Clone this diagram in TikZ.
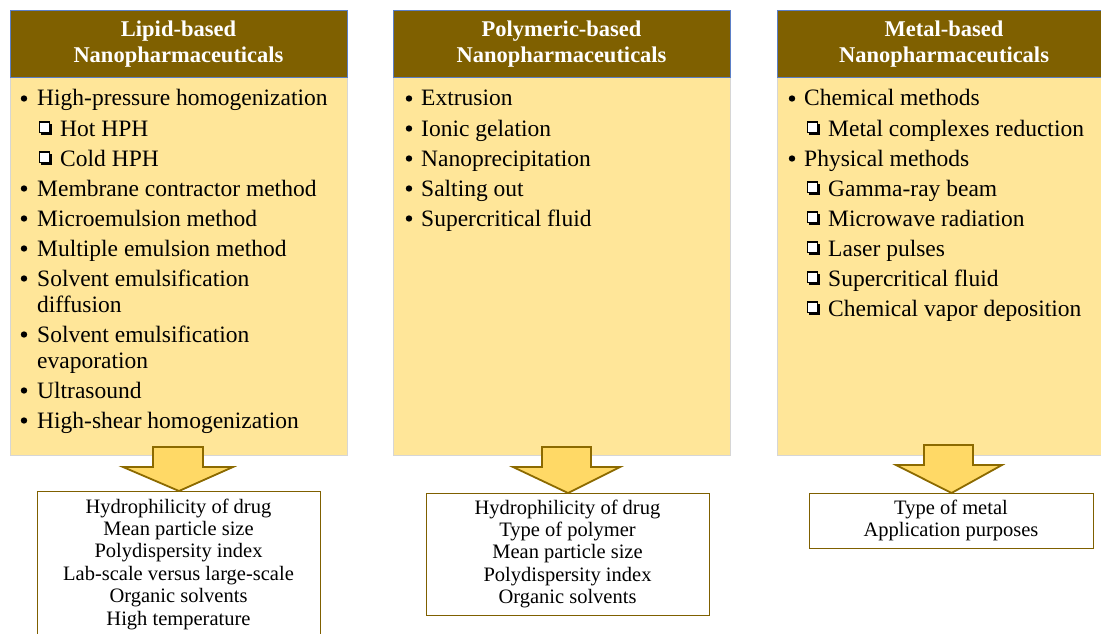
\documentclass[tikz,border=0pt]{standalone}
\usepackage{fontspec}
\setmainfont{Liberation Serif}
\definecolor{hdrbrown}{HTML}{7F6000}
\definecolor{hdrblue}{HTML}{5B7FC7}
\definecolor{bodyyellow}{HTML}{FFE699}
\definecolor{bodygray}{HTML}{D6D6D6}
\definecolor{arrowyellow}{HTML}{FFD966}
\definecolor{arrowbrown}{HTML}{8C6A00}
\tikzset{
  hdr/.style={draw=hdrblue, line width=1pt, fill=hdrbrown, anchor=north west, inner sep=0},
  bodybox/.style={draw=bodygray, line width=1pt, fill=bodyyellow, anchor=north west, inner sep=0},
  hdrtext/.style={anchor=base, inner sep=0, text=white, font=\bfseries\fontsize{22.5}{26}\selectfont},
  item/.style={anchor=base west, inner sep=0, font=\fontsize{23.5}{26}\selectfont},
  bul/.style={circle, fill=black, inner sep=0, minimum size=6.4pt},
  resbox/.style={draw=hdrbrown, line width=1pt, fill=white, anchor=north west, inner sep=0},
  restext/.style={anchor=base, inner sep=0, font=\fontsize{20.5}{22.5}\selectfont},
  bigarrow/.style={draw=arrowbrown, line width=1.8pt, fill=arrowyellow, line join=miter},
  sqm/.pic={
    \fill[black] (2.4,-1.2) rectangle (13,-12);
    \filldraw[fill=white, draw=black, line width=1.1pt] (0.5,-3.6) rectangle (10.6,-14);
  }
}
\begin{document}
\begin{tikzpicture}[x=1pt, y=-1pt]
\useasboundingbox (0,0) rectangle (1101,634);
% ---------- bodies ----------
\node[bodybox, minimum width=337pt, minimum height=378pt] (b1) at (10,77) {};
\node[bodybox, minimum width=337pt, minimum height=378pt] (b2) at (393,77) {};
\node[bodybox, minimum width=340pt, minimum height=378pt] (b3) at (777,77) {};
% ---------- headers ----------
\node[hdr, minimum width=337pt, minimum height=67pt] (h1) at (10,10) {};
\node[hdr, minimum width=337pt, minimum height=67pt] (h2) at (393,10) {};
\node[hdr, minimum width=340pt, minimum height=67pt] (h3) at (777,10) {};
\node[hdrtext] (h1a) at (178.5,37) {Lipid-based};
\node[hdrtext] (h1b) at (178.5,63) {Nanopharmaceuticals};
\node[hdrtext] (h2a) at (561.5,37) {Polymeric-based};
\node[hdrtext] (h2b) at (561.5,63) {Nanopharmaceuticals};
\node[hdrtext] (h3a) at (944,37) {Metal-based};
\node[hdrtext] (h3b) at (944,63) {Nanopharmaceuticals};
% ---------- column 1 items ----------
\node[bul] (c1b1) at (24,98.5) {};
\node[item] (c1t1) at (37,106) {High-pressure homogenization};
\pic at (39,136) {sqm};
\node[item] (c1t2) at (60,136) {Hot HPH};
\pic at (39,166) {sqm};
\node[item] (c1t3) at (60,166) {Cold HPH};
\node[bul] (c1b4) at (24,188.5) {};
\node[item] (c1t4) at (37,196) {Membrane contractor method};
\node[bul] (c1b5) at (24,218.5) {};
\node[item] (c1t5) at (37,226) {Microemulsion method};
\node[bul] (c1b6) at (24,248.5) {};
\node[item] (c1t6) at (37,256) {Multiple emulsion method};
\node[bul] (c1b7) at (24,278.5) {};
\node[item] (c1t7) at (37,286) {Solvent emulsification};
\node[item] (c1t7b) at (37,312) {diffusion};
\node[bul] (c1b8) at (24,334.5) {};
\node[item] (c1t8) at (37,342) {Solvent emulsification};
\node[item] (c1t8b) at (37,368) {evaporation};
\node[bul] (c1b9) at (24,390.5) {};
\node[item] (c1t9) at (37,398) {Ultrasound};
\node[bul] (c1b10) at (24,420.5) {};
\node[item] (c1t10) at (37,428) {High-shear homogenization};
% ---------- column 2 items ----------
\foreach \t [count=\i] in {Extrusion, Ionic gelation, Nanoprecipitation, Salting out, Supercritical fluid}{
  \node[bul] (c2b\i) at (409,{98.5+30*(\i-1)}) {};
  \node[item] (c2t\i) at (421,{106+30*(\i-1)}) {\t};
}
% ---------- column 3 items ----------
\node[bul] (c3b1) at (792,98.5) {};
\node[item] (c3t1) at (804,106) {Chemical methods};
\pic at (807,136) {sqm};
\node[item] (c3t2) at (828,136) {Metal complexes reduction};
\node[bul] (c3b3) at (792,158.5) {};
\node[item] (c3t3) at (804,166) {Physical methods};
\foreach \t [count=\i] in {Gamma-ray beam, Microwave radiation, Laser pulses, Supercritical fluid, Chemical vapor deposition}{
  \pic at (807,{196+30*(\i-1)}) {sqm};
  \node[item] (c3s\i) at (828,{196+30*(\i-1)}) {\t};
}
% ---------- result boxes ----------
\node[resbox, minimum width=283pt, minimum height=160pt] (r1) at (37,491) {};
\node[resbox, minimum width=283pt, minimum height=122pt] (r2) at (426,493) {};
\node[resbox, minimum width=284pt, minimum height=55pt] (r3) at (809,493) {};
\foreach \t [count=\i] in {Hydrophilicity of drug, Mean particle size, Polydispersity index, Lab-scale versus large-scale, Organic solvents, High temperature}{
  \node[restext] (r1t\i) at (178.5,{513+22.4*(\i-1)}) {\t};
}
\foreach \t [count=\i] in {Hydrophilicity of drug, Type of polymer, Mean particle size, Polydispersity index, Organic solvents}{
  \node[restext] (r2t\i) at (567.5,{514+22.4*(\i-1)}) {\t};
}
\foreach \t [count=\i] in {Type of metal, Application purposes}{
  \node[restext] (r3t\i) at (951,{514+22.6*(\i-1)}) {\t};
}
% ---------- block arrows ----------
\draw[bigarrow] (153,447) -- (203,447) -- (203,467) -- (233,467) -- (r1.north) -- (123,467) -- (153,467) -- cycle;
\draw[bigarrow] (542,447) -- (591,447) -- (591,467) -- (620,467) -- (r2.north) -- (513,467) -- (542,467) -- cycle;
\draw[bigarrow] (924,445) -- (973,445) -- (973,465) -- (1002,465) -- (r3.north) -- (896,465) -- (924,465) -- cycle;
\end{tikzpicture}
\end{document}
